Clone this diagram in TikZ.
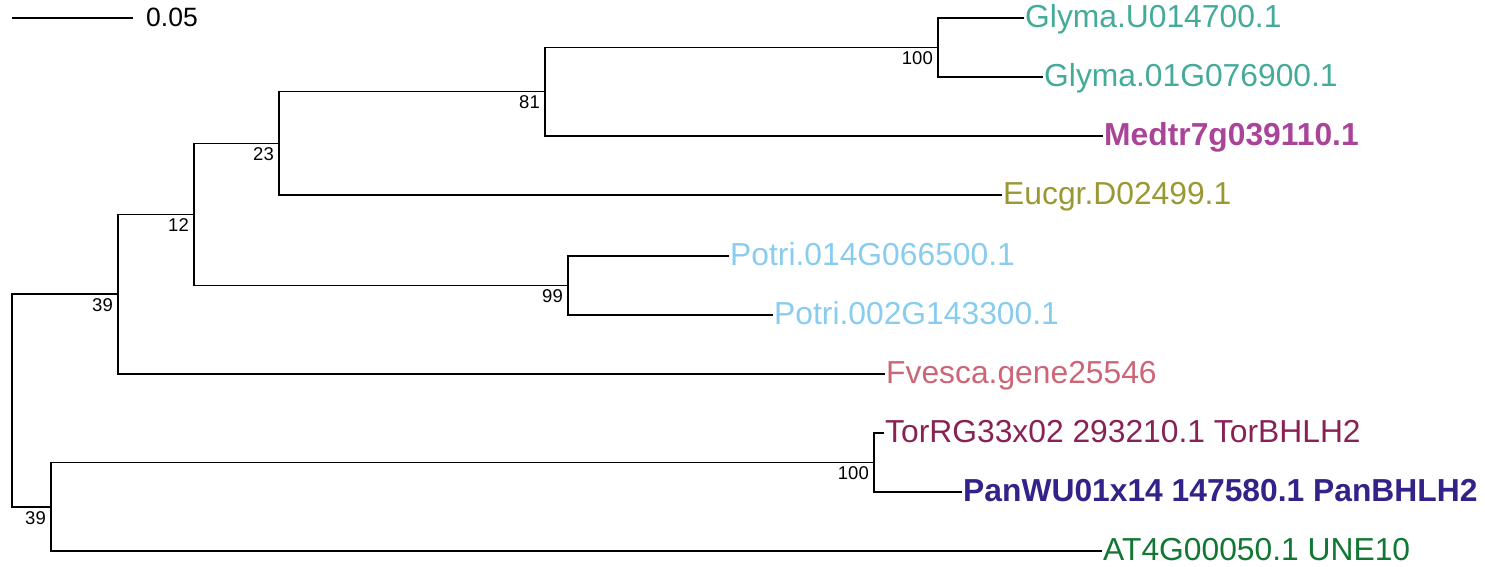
\documentclass[tikz,border=0pt]{standalone}
\usepackage{fontspec}
\setmainfont{Liberation Sans}
\usetikzlibrary{positioning}
\definecolor{tolTeal}{HTML}{44AA99}
\definecolor{tolPurple}{HTML}{AA4499}
\definecolor{tolOlive}{HTML}{999933}
\definecolor{tolCyan}{HTML}{88CCEE}
\definecolor{tolRose}{HTML}{CC6677}
\definecolor{tolWine}{HTML}{882255}
\definecolor{tolIndigo}{HTML}{332288}
\definecolor{tolGreen}{HTML}{117733}

\begin{document}
\begin{tikzpicture}[
  x=1pt, y=-1pt,
  branch/.style = {draw=black, line width=1.8pt},
  leaf/.style   = {anchor=base west, inner sep=0pt, xshift=1pt, yshift=-9.5pt, font=\fontsize{31.8}{38}\selectfont},
  leafB/.style  = {leaf, font=\fontsize{31.8}{38}\selectfont\bfseries},
  boot/.style   = {anchor=base east, inner sep=0pt, xshift=-5pt, yshift=-17pt, font=\fontsize{18.5}{22}\selectfont},
  scalelbl/.style = {anchor=base west, inner sep=0pt, xshift=13pt, yshift=-9pt, font=\fontsize{26.5}{31}\selectfont},
]
\useasboundingbox (0,0) rectangle (1485,567);
% scale bar
\coordinate (sb0) at (12,18);
\coordinate (sb1) at (133,18);
\draw[branch] (sb0) -- (sb1);
\node[scalelbl] (sblbl) at (sb1) {0.05};
% leaves: name / x / y / colour / style / label
\foreach \nm/\px/\py/\col/\sty/\txt in {
    glymaU/1024/18/tolTeal/leaf/Glyma.U014700.1,
    glymaO/1043/77/tolTeal/leaf/Glyma.01G076900.1,
    medtr/1103/136/tolPurple/leafB/Medtr7g039110.1,
    eucgr/1002/195/tolOlive/leaf/Eucgr.D02499.1,
    potriA/729/256/tolCyan/leaf/Potri.014G066500.1,
    potriB/773/315/tolCyan/leaf/Potri.002G143300.1,
    fvesca/885/374/tolRose/leaf/Fvesca.gene25546,
    tor/884/433/tolWine/leaf/TorRG33x02 293210.1 TorBHLH2,
    pan/962/492/tolIndigo/leafB/PanWU01x14 147580.1 PanBHLH2,
    atg/1102/551/tolGreen/leaf/AT4G00050.1 UNE10}{
  \coordinate (t\nm) at (\px,\py);
  \node[\sty, text=\col] (l\nm) at (t\nm) {\txt};
}
% internal nodes with bootstrap values
\foreach \nm/\px/\py/\bs in {
    nGly/938/47.5/100, nMed/545/91.5/81, nEuc/279/143.5/23,
    nPot/568/285.5/99, nTwelve/194/214.5/12, nFve/118/294/39,
    nTor/874/462.5/100, nAtg/51/507/39}{
  \coordinate (\nm) at (\px,\py);
  \node[boot] (b\nm) at (\nm) {\bs};
}
\coordinate (root) at (12,400.5);
% branches
\draw[branch] (tglymaU) -| (nGly) |- (tglymaO);
\draw[branch] (nGly) -| (nMed) |- (tmedtr);
\draw[branch] (nMed) -| (nEuc) |- (teucgr);
\draw[branch] (tpotriA) -| (nPot) |- (tpotriB);
\draw[branch] (nEuc) -| (nTwelve) |- (nPot);
\draw[branch] (nTwelve) -| (nFve) |- (tfvesca);
\draw[branch] (ttor) -| (nTor) |- (tpan);
\draw[branch] (nTor) -| (nAtg) |- (tatg);
\draw[branch] (nFve) -| (root) |- (nAtg);
\end{tikzpicture}
\end{document}
